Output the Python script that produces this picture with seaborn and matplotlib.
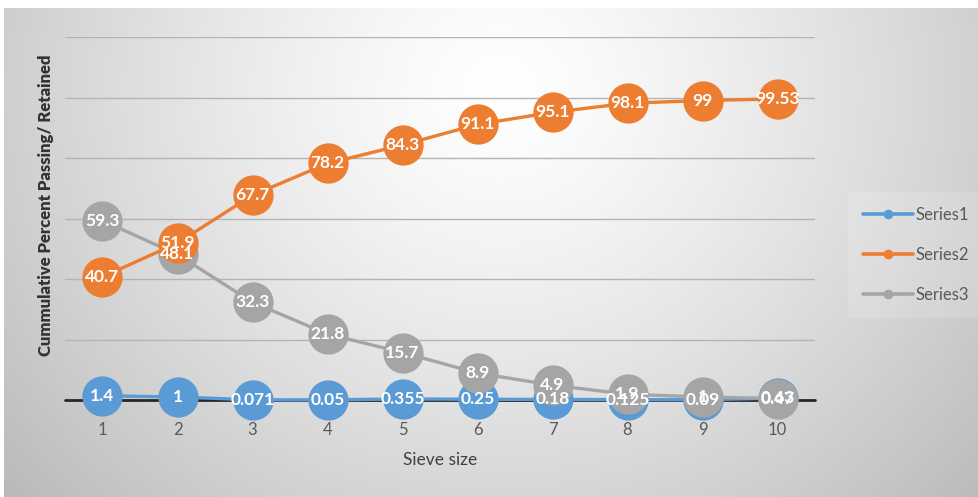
import numpy as np
import pandas as pd
import matplotlib
matplotlib.use("Agg")
import matplotlib.pyplot as plt
import seaborn as sns
from matplotlib.lines import Line2D

# ---- data ----
sieve = [1, 2, 3, 4, 5, 6, 7, 8, 9, 10]
series1 = [1.4, 1, 0.071, 0.05, 0.355, 0.25, 0.18, 0.125, 0.09, 0.63]
series2 = [40.7, 51.9, 67.7, 78.2, 84.3, 91.1, 95.1, 98.1, 99, 99.53]
series3 = [59.3, 48.1, 32.3, 21.8, 15.7, 8.9, 4.9, 1.9, 1, 0.47]
series_names = ["Series1", "Series2", "Series3"]
colors = ["#5b9bd5", "#ed7d31", "#a5a5a5"]
x_label = "Sieve size"
y_label = "Cummulative Percent Passing/ Retained"

df = pd.concat([
    pd.DataFrame({"x": sieve, "y": vals, "s": name})
    for name, vals in zip(series_names, [series1, series2, series3])
])

sns.set_theme(style="white")
plt.rcParams["font.family"] = ["Lato", "DejaVu Sans"]

fig = plt.figure(figsize=(9.79, 4.97), dpi=100)

# background gradient
bg = fig.add_axes([0, 0, 1, 1], zorder=-10)
H, W = 497, 979
yy, xx = np.mgrid[0:H, 0:W]
dx = (xx - 500) / 560.0
dy = (yy - 90) / 520.0
r = np.sqrt(dx ** 2 + dy ** 2)
val = np.clip(1.0 - 0.22 * r ** 1.3, 0, 1)
img = np.dstack([val, val, val])
img[:8, :, :] = 1.0
img[:, :4, :] = 1.0
bg.imshow(img, aspect="auto", extent=[0, 1, 0, 1], origin="upper")
bg.set_axis_off()

ax = fig.add_axes([65 / 979, 1 - 400 / 497, 750 / 979, 363 / 497])
ax.patch.set_alpha(0)

zorders = {"Series1": 3, "Series2": 5, "Series3": 4}
for i, name in enumerate(series_names):
    sub = df[df["s"] == name]
    sns.lineplot(data=sub, x="x", y="y", ax=ax, color=colors[i], linewidth=2.4,
                 marker="o", markersize=29, markeredgewidth=0, zorder=zorders[name],
                 legend=False)
for line in ax.lines:
    line.set_clip_on(False)

for vals in [series1, series2, series3]:
    for xv, yv in zip(sieve, vals):
        ax.text(xv, yv, f"{yv:g}", color="white", fontsize=12.5, fontweight="bold",
                ha="center", va="center", zorder=10)

ax.set_xlim(0.5, 10.5)
ax.set_ylim(0, 120)
ax.set_yticks([0, 20, 40, 60, 80, 100, 120])
ax.set_yticklabels([])
ax.grid(axis="y", color="#b4b4b4", linewidth=1.0)
ax.grid(axis="x", visible=False)
ax.set_axisbelow(True)
for s in ["top", "right", "left", "bottom"]:
    ax.spines[s].set_visible(False)
ax.axhline(0, color="#262626", linewidth=2.0, zorder=2.5, clip_on=False)
ax.set_xticks(sieve)
ax.set_xticklabels([str(v) for v in sieve], color="#595959", fontsize=12)
ax.tick_params(axis="x", length=0, pad=16)
ax.tick_params(axis="y", length=0)
ax.set_xlabel(x_label, color="#404040", fontsize=12.5, labelpad=10)
ax.set_ylabel(y_label, color="#333333", fontsize=12, fontweight="heavy")
ax.yaxis.set_label_coords(-0.014, 0.537)

handles = [Line2D([0], [0], color=c, lw=2.6, marker="o", markersize=6) for c in colors]
leg = fig.legend(handles, series_names, loc="center left",
                 bbox_to_anchor=(840 / 979, 1 - 255 / 497),
                 frameon=True, fontsize=12, labelcolor="#595959", handlelength=3.0,
                 handletextpad=0.15, labelspacing=1.45, borderpad=0.9)
leg.get_frame().set_facecolor("white")
leg.get_frame().set_alpha(0.15)
leg.get_frame().set_edgecolor("none")

fig.savefig("out.png", dpi=100)
